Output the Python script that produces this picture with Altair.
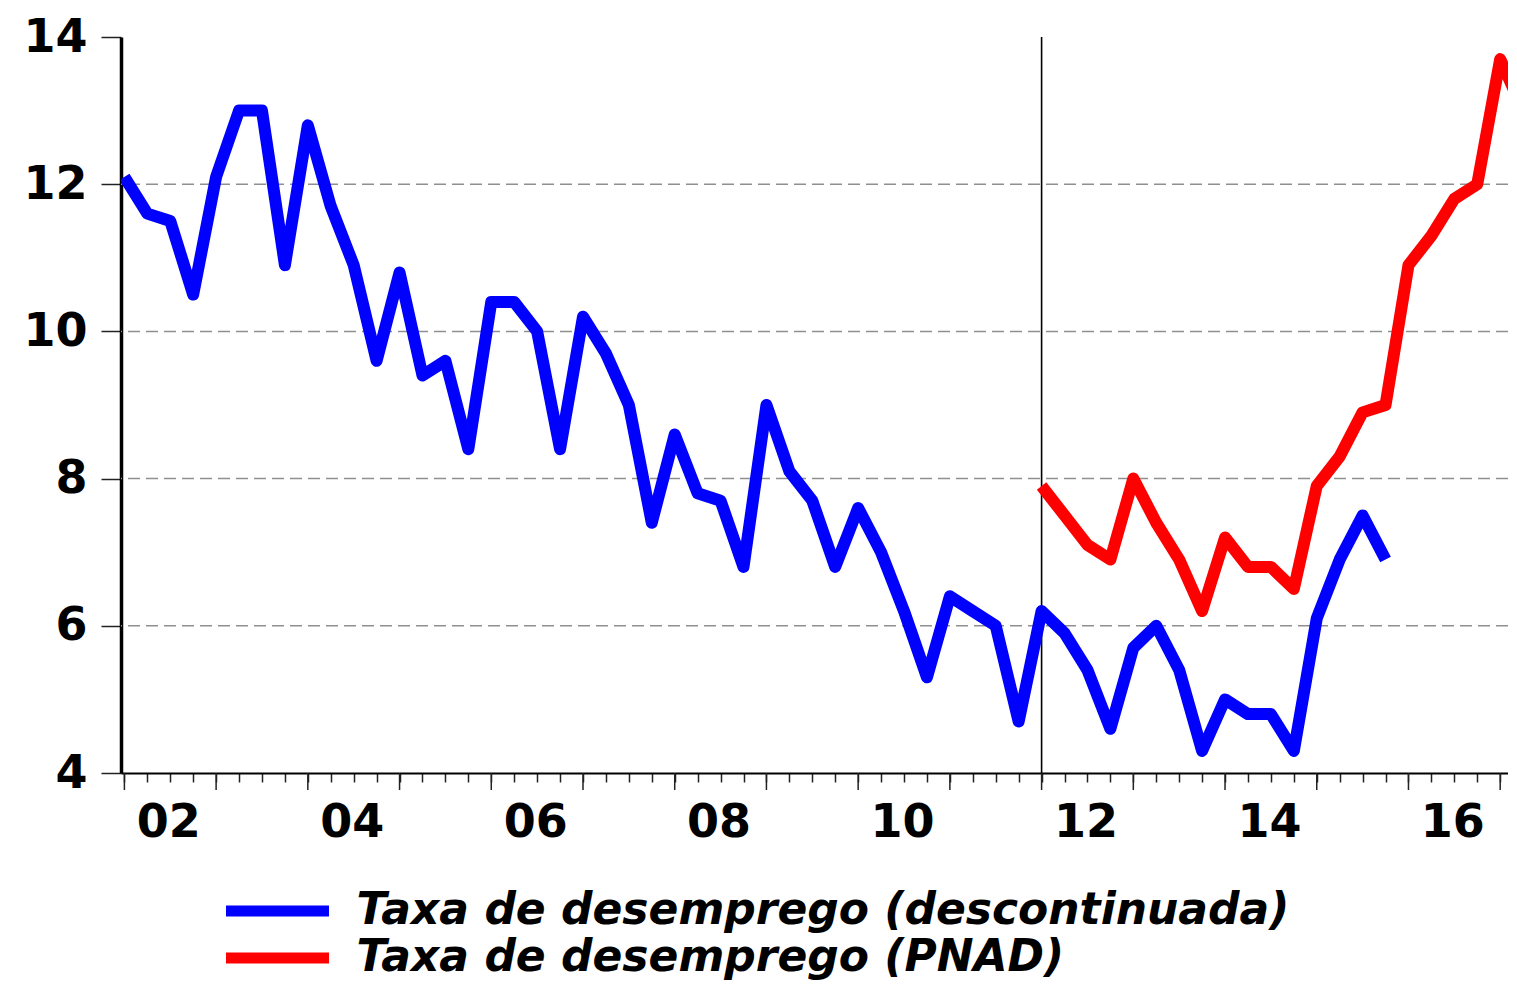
import json
import altair as alt
import pandas as pd

# ---------------- data ----------------
periods = [f"{y}Q{q}" for y in range(2002, 2018) for q in range(1, 5)][:62]  # 2002Q1 .. 2017Q2

blue_name = "Taxa de desemprego (descontinuada)"
red_name = "Taxa de desemprego (PNAD)"

blue_start = "2002Q1"
blue_values = [12.1, 11.6, 11.5, 10.5, 12.1, 13.0, 13.0, 10.9, 12.8, 11.7,
               10.9, 9.6, 10.8, 9.4, 9.6, 8.4, 10.4, 10.4, 10.0, 8.4,
               10.2, 9.7, 9.0, 7.4, 8.6, 7.8, 7.7, 6.8, 9.0, 8.1,
               7.7, 6.8, 7.6, 7.0, 6.2, 5.3, 6.4, 6.2, 6.0, 4.7,
               6.2, 5.9, 5.4, 4.6, 5.7, 6.0, 5.4, 4.3, 5.0, 4.8,
               4.8, 4.3, 6.1, 6.9, 7.5, 6.9]

red_start = "2012Q1"
red_values = [7.9, 7.5, 7.1, 6.9, 8.0, 7.4, 6.9, 6.2, 7.2, 6.8, 6.8,
              6.5, 7.9, 8.3, 8.9, 9.0, 10.9, 11.3, 11.8, 12.0, 13.7, 13.0]

separator_period = ["2012Q1"]
y_ticks = [4, 6, 8, 10, 12, 14]
grid_levels = [6, 8, 10, 12]
year_labels = ["02", "04", "06", "08", "10", "12", "14", "16"]

# ---------------- tables ----------------
rows = []
b0 = periods.index(blue_start)
for k, v in enumerate(blue_values):
    rows.append({"series": blue_name, "period": periods[b0 + k], "idx": b0 + k, "value": v})
r0 = periods.index(red_start)
for k, v in enumerate(red_values):
    rows.append({"series": red_name, "period": periods[r0 + k], "idx": r0 + k, "value": v})
df = pd.DataFrame(rows)

grid_df = pd.DataFrame({"value": grid_levels})
sep_df = pd.DataFrame({"idx": [periods.index(p) for p in separator_period]})
major_df = pd.DataFrame({"idx": [i for i, p in enumerate(periods) if p.endswith("Q1") and i <= 60]})

label_idx = [periods.index(f"20{y}Q3") for y in year_labels]
label_expr = (f"indexof({json.dumps(label_idx)}, datum.value) < 0 ? '' : "
              f"{json.dumps(year_labels)}[indexof({json.dumps(label_idx)}, datum.value)]")

FONT = "DejaVu Sans"
W, H = 1387, 736
PX_PER_Q = 22.93
X0 = -0.148

x_scale = alt.Scale(domain=[X0, X0 + W / PX_PER_Q], nice=False, zero=False)
y_scale = alt.Scale(domain=[4, 14], nice=False, zero=False)

x_axis = alt.Axis(values=list(range(0, 61)), title=None, grid=False,
                  tickSize=9, tickWidth=1.5, tickColor="#222222",
                  domainWidth=2, domainColor="black",
                  labelExpr=label_expr, labelFont=FONT, labelFontSize=46,
                  labelFontWeight="bold", labelColor="black", labelPadding=18,
                  labelOverlap=False, labelFlush=False, labelOffset=-2)
y_axis = alt.Axis(values=y_ticks, title=None, grid=False, format="d",
                  tickSize=20, tickWidth=1.5, tickColor="#222222",
                  domainWidth=3.5, domainColor="black",
                  labelFont=FONT, labelFontSize=46, labelFontWeight="bold",
                  labelColor="black", labelPadding=14)

x_enc = alt.X("idx:Q", scale=x_scale, axis=x_axis)
y_enc = alt.Y("value:Q", scale=y_scale, axis=y_axis)

grid = alt.Chart(grid_df).mark_rule(color="#8f8f8f", strokeWidth=1.5,
                                    strokeDash=[12, 6]).encode(y=y_enc)
sep = alt.Chart(sep_df).mark_rule(color="black", strokeWidth=1.6).encode(x=x_enc)
majors = alt.Chart(major_df).mark_rule(color="#222222", strokeWidth=1.5).encode(
    x=x_enc, y=alt.value(H), y2=alt.value(H + 17))

legend = alt.Legend(orient="none", legendX=134.5, legendY=852, direction="vertical",
                    title=None, padding=0, symbolType="M-10.3,0H10.3", symbolSize=100,
                    symbolStrokeWidth=11, labelFont=FONT, labelFontSize=44,
                    labelFontWeight="bold", labelFontStyle="italic", labelColor="black",
                    labelOffset=57, labelLimit=2000, rowPadding=3)

lines = alt.Chart(df).mark_line(strokeWidth=12, strokeJoin="round", strokeCap="butt",
                                clip=True).encode(
    x=x_enc, y=y_enc,
    color=alt.Color("series:N",
                    scale=alt.Scale(domain=[blue_name, red_name], range=["#0000ff", "#ff0000"]),
                    legend=legend),
)

chart = alt.layer(grid, sep, majors, lines).properties(
    width=W, height=H,
    autosize=alt.AutoSizeParams(type="none"),
    padding={"left": 113, "top": 29, "right": 0, "bottom": 210},
    background="white",
).configure_view(stroke=None)

chart.save("out.html", embed_options={"renderer": "svg", "actions": False})
